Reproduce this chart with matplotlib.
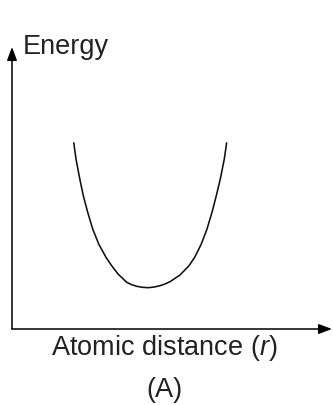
import matplotlib
matplotlib.use("Agg")
import matplotlib.pyplot as plt

plt.rcParams["font.family"] = ["Liberation Sans", "DejaVu Sans"]
plt.rcParams["mathtext.fontset"] = "custom"
plt.rcParams["mathtext.rm"] = "Liberation Sans"
plt.rcParams["mathtext.it"] = "Liberation Sans:italic"

# potential energy well, read as (distance, energy) pairs
distance = [6.17, 6.4, 6.78, 7.13, 7.57, 8.07, 8.67, 9.4, 9.95, 10.6,
            11.47, 11.97, 12.47, 13.03, 13.63, 14.23, 14.8, 15.3, 15.8,
            16.8, 17.7, 18.27, 18.93, 19.5, 20.0, 20.43, 20.83, 21.23,
            21.47]
energy = [18.67, 17.0, 15.0, 13.33, 11.67, 10.0, 8.5, 7.17, 6.35, 5.5,
          4.67, 4.43, 4.27, 4.17, 4.13, 4.2, 4.33, 4.5, 4.73,
          5.4, 6.33, 7.17, 8.5, 10.0, 11.67, 13.33, 15.0, 17.0,
          18.67]

x_label = "Atomic distance ($\\it{r}$)"
y_label = "Energy"
panel = "(A)"

fig = plt.figure(figsize=(3.33, 4.06), dpi=100, facecolor="white")
ax = fig.add_axes([0, 0, 1, 1])
ax.set_xlim(-1.2, 32.1)
ax.set_ylim(-7.6, 33.0)
ax.axis("off")

ax.plot(distance, energy, color="#111111", lw=1.15, solid_capstyle="butt",
        solid_joinstyle="round")

arrow = dict(arrowstyle="-|>,head_length=0.8,head_width=0.3",
             color="black", lw=1.1, shrinkA=0, shrinkB=0)
ax.annotate("", xy=(0, 28.2), xytext=(0, 0), arrowprops=arrow)
ax.annotate("", xy=(32.0, 0), xytext=(0, 0), arrowprops=arrow)

ax.text(1.1, 27.6, y_label, fontsize=19.5, va="baseline", ha="left", color="#222222")
ax.text(15.2, -2.5, x_label, fontsize=19.5, va="baseline", ha="center", color="#222222")
ax.text(15.25, -6.7, panel, fontsize=19.5, va="baseline", ha="center", color="#222222")

fig.savefig("out.png", dpi=100, facecolor="white")
